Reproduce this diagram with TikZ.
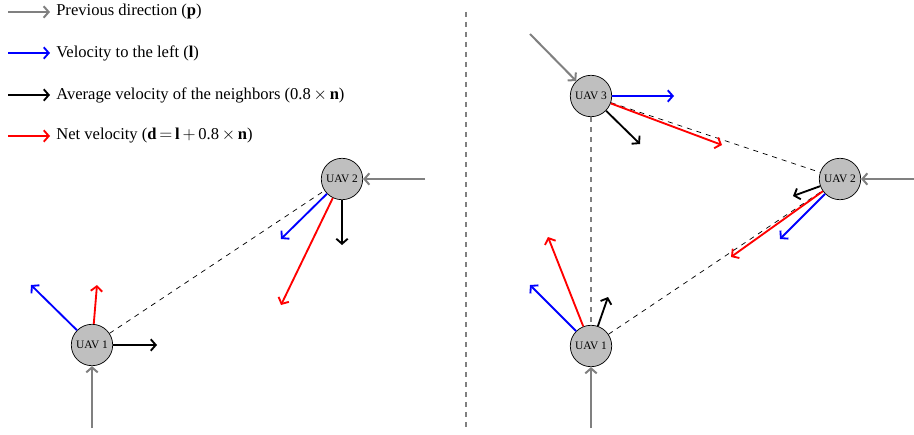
\documentclass[tikz,border=0pt]{standalone}
\usepackage{fontspec}
\setmainfont{Liberation Serif}
\usetikzlibrary{arrows.meta}
\tikzset{
  tip/.style={-{Straight Barb[length=3.5pt,width=8pt]}},
  prevv/.style={tip, draw=gray, line width=1.4pt},
  leftv/.style={tip, draw=blue, line width=1.3pt},
  neighv/.style={tip, draw=black, line width=1.3pt},
  netv/.style={tip, draw=red, line width=1.3pt},
  link/.style={draw=black, dash pattern=on 3.5pt off 3.5pt, line width=0.5pt},
  divider/.style={draw=gray, dash pattern=on 3.5pt off 3.5pt, line width=1pt},
  uav/.style={circle, draw=black, fill=lightgray, line width=0.5pt, minimum size=29pt, inner sep=0pt, font=\fontsize{8}{9}\selectfont},
  legtext/.style={anchor=west, inner sep=0pt, font=\fontsize{11.6}{14}\selectfont}
}
\begin{document}
\begin{tikzpicture}[x=0.7pt,y=-0.7pt]
\useasboundingbox (0,0) rectangle (914,435);
% legend
\coordinate (lg1a) at (8,12);  \coordinate (lg1b) at (50,12);
\coordinate (lg2a) at (8,53);  \coordinate (lg2b) at (50,53);
\coordinate (lg3a) at (8,95);  \coordinate (lg3b) at (50,95);
\coordinate (lg4a) at (8,136); \coordinate (lg4b) at (50,136);
\draw[prevv] (lg1a) -- (lg1b);
\draw[leftv] (lg2a) -- (lg2b);
\draw[neighv] (lg3a) -- (lg3b);
\draw[netv] (lg4a) -- (lg4b);
\node[legtext] (t1) at (56,12) {Previous direction (\textbf{p})};
\node[legtext] (t2) at (56,53) {Velocity to the left (\textbf{l})};
\node[legtext] (t3) at (56,95) {Average velocity of the neighbors (0.8\,$\times$\,\textbf{n})};
\node[legtext] (t4) at (56,136) {Net velocity (\textbf{d}\,$=$\,\textbf{l}\,$+$\,0.8\,$\times$\,\textbf{n})};

% divider
\coordinate (dvt) at (466,12); \coordinate (dvb) at (466,430);
\draw[divider] (dvt) -- (dvb);

% left panel
\node[uav] (a1) at (92,345) {UAV 1};
\node[uav] (a2) at (342,179) {UAV 2};
\draw[link] (a1) -- (a2);
\coordinate (a1p) at (92,428);
\coordinate (a2p) at (425,179);
\draw[prevv] (a1p) -- (a1);
\draw[prevv] (a2p) -- (a2);
\coordinate (a1l) at (31,285);
\coordinate (a1d) at (97,285);
\coordinate (a1n) at (157,345);
\draw[leftv] (a1) -- (a1l);
\draw[netv] (a1) -- (a1d);
\draw[neighv] (a1) -- (a1n);
\coordinate (a2l) at (281,239);
\coordinate (a2d) at (281,305);
\coordinate (a2n) at (342,245);
\draw[leftv] (a2) -- (a2l);
\draw[netv] (a2) -- (a2d);
\draw[neighv] (a2) -- (a2n);

% right panel
\node[uav] (b3) at (591,96) {UAV 3};
\node[uav] (b2) at (840,179) {UAV 2};
\node[uav] (b1) at (591,346) {UAV 1};
\draw[divider] (b3) -- (b1);
\draw[link] (b3) -- (b2);
\draw[link] (b1) -- (b2);
\coordinate (b3p) at (530,34);
\coordinate (b2p) at (914,179);
\coordinate (b1p) at (591,428);
\draw[prevv] (b3p) -- (b3);
\draw[prevv] (b2p) -- (b2);
\draw[prevv] (b1p) -- (b1);
\coordinate (b3l) at (674,96);
\coordinate (b3d) at (722,145);
\coordinate (b3n) at (640,144);
\draw[leftv] (b3) -- (b3l);
\draw[netv] (b3) -- (b3d);
\draw[neighv] (b3) -- (b3n);
\coordinate (b2l) at (780,239);
\coordinate (b2d) at (731,257);
\coordinate (b2n) at (793,196);
\draw[leftv] (b2) -- (b2l);
\draw[netv] (b2) -- (b2d);
\draw[neighv] (b2) -- (b2n);
\coordinate (b1l) at (530,285);
\coordinate (b1d) at (548,237);
\coordinate (b1n) at (608,297);
\draw[leftv] (b1) -- (b1l);
\draw[netv] (b1) -- (b1d);
\draw[neighv] (b1) -- (b1n);
\end{tikzpicture}
\end{document}
